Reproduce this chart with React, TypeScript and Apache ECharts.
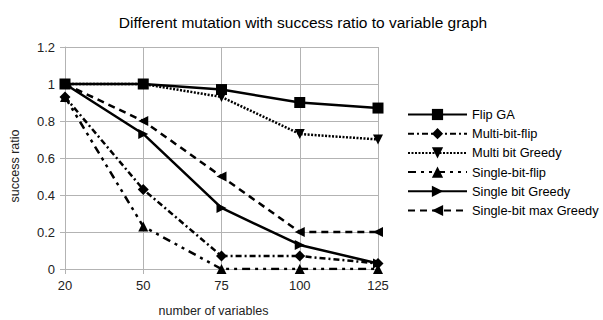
import React, { useEffect, useRef } from "react";
import * as echarts from "echarts";

const categories = ["20", "50", "75", "100", "125"];
const flipGA = [1, 1, 0.97, 0.9, 0.87];
const multiBitFlip = [0.93, 0.43, 0.07, 0.07, 0.03];
const multiBitGreedy = [1, 1, 0.93, 0.73, 0.7];
const singleBitFlip = [0.93, 0.23, 0, 0, 0];
const singleBitGreedy = [1, 0.73, 0.33, 0.13, 0.03];
const singleBitMaxGreedy = [1, 0.8, 0.5, 0.2, 0.2];

export default function App() {
  const ref = useRef<HTMLDivElement>(null);
  useEffect(() => {
    if (!ref.current) return;
    const chart = echarts.init(ref.current, undefined, { renderer: "svg" });
    const mk = (name: string, data: number[], symbol: string, rot: number, type: any, size = 10) => ({
      name,
      type: "line",
      data,
      symbol,
      symbolSize: size,
      symbolRotate: rot,
      itemStyle: { color: "#000" },
      lineStyle: { color: "#000", width: 2.5, type },
    });
    chart.setOption({
      animation: false,
      title: {
        text: "Different mutation with success ratio to variable graph",
        left: 298,
        textAlign: "center",
        top: 9,
        textStyle: { fontFamily: "Liberation Sans", fontWeight: "normal", fontSize: 15.5, color: "#000" },
      },
      grid: { left: 65, right: 225, top: 47, bottom: 51, outerBoundsMode: "none", containLabel: false },
      legend: {
        orient: "vertical",
        left: 407,
        top: 108,
        padding: 0,
        itemWidth: 59,
        itemHeight: 14,
        itemGap: 6.2,
        textStyle: { fontFamily: "Liberation Sans", fontSize: 12.8, color: "#000" },
      },
      xAxis: {
        type: "category",
        data: categories,
        boundaryGap: false,
        name: "number of variables",
        nameLocation: "middle",
        nameGap: 35,
        nameTextStyle: { fontFamily: "Liberation Sans", fontSize: 12.5, color: "#222", padding: [0, 16, 0, 0] },
        axisLine: { lineStyle: { color: "#b3b3b3" } },
        axisTick: { show: true, length: 5, lineStyle: { color: "#b3b3b3" } },
        axisLabel: { fontFamily: "Liberation Sans", fontSize: 13, color: "#222", margin: 10 },
        splitLine: { show: true, lineStyle: { color: "#b3b3b3" } },
      },
      yAxis: {
        type: "value",
        min: 0,
        max: 1.2,
        interval: 0.2,
        name: "success ratio",
        nameLocation: "middle",
        nameGap: 44,
        nameTextStyle: { fontFamily: "Liberation Sans", fontSize: 12.5, color: "#222", padding: [0, 16, 0, 0] },
        axisLine: { show: true, lineStyle: { color: "#b3b3b3" } },
        axisTick: { show: true, length: 5, lineStyle: { color: "#b3b3b3" } },
        axisLabel: {
          fontFamily: "Liberation Sans",
          fontSize: 13,
          color: "#222",
          margin: 10,
          formatter: (v: number) => String(Math.round(v * 10) / 10),
        },
        splitLine: { show: true, lineStyle: { color: "#b3b3b3" } },
      },
      series: [
        mk("Flip GA", flipGA, "rect", 0, "solid", 11),
        mk("Multi-bit-flip", multiBitFlip, "diamond", 0, [6, 3, 2, 3], 11),
        mk("Multi bit Greedy", multiBitGreedy, "triangle", 180, [2, 1.5]),
        mk("Single-bit-flip", singleBitFlip, "triangle", 0, [8, 5, 3, 5, 3, 5]),
        mk("Single bit Greedy", singleBitGreedy, "triangle", -90, "solid"),
        mk("Single-bit max Greedy", singleBitMaxGreedy, "triangle", 90, [7, 5]),
      ],
    });
    return () => chart.dispose();
  }, []);
  return (
    <div
      ref={ref}
      style={{ position: "absolute", left: 0, top: 0, width: 603, height: 320 }}
    />
  );
}
